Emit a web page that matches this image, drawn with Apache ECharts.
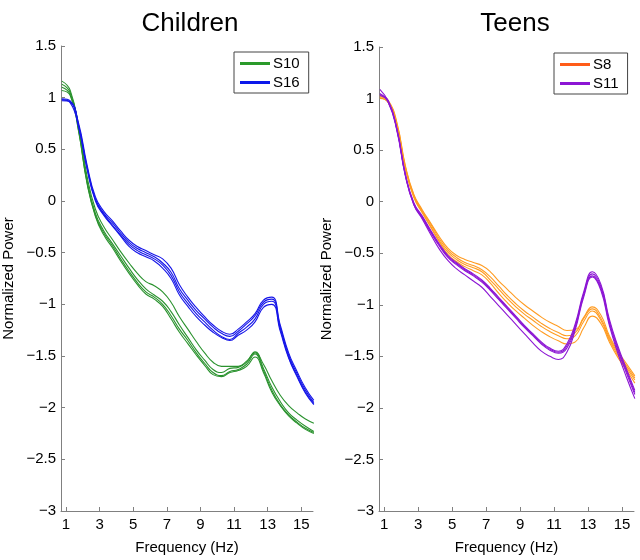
<!DOCTYPE html>
<html>
<head>
<meta charset="utf-8">
<script src="https://cdn.jsdelivr.net/npm/echarts@6/dist/echarts.min.js"></script>
<style>
  html, body { margin: 0; padding: 0; background: #fff; }
  #main { width: 640px; height: 560px; }
</style>
</head>
<body>
<div id="main"></div>
<script>
// frequency grid (Hz), shared by every curve
const freqs = [0.75, 1.25, 1.75, 2.25, 2.75, 3.25, 3.75, 4.25, 4.75, 5.25, 5.75,
  6.25, 6.75, 7.25, 7.75, 8.25, 8.75, 9.25, 9.75, 10.25, 10.75, 11.25, 11.75,
  12.25, 12.75, 13.25, 13.75, 14.25, 14.75, 15.25, 15.75];

const xTicks = [1, 3, 5, 7, 9, 11, 13, 15];

// Children: S10 (green)
const s10a = [1.10, 1.03, 0.73, 0.24, -0.08, -0.25, -0.37, -0.49, -0.60, -0.70, -0.78, -0.82, -0.88, -0.98, -1.12, -1.24, -1.36, -1.47, -1.56, -1.60, -1.60, -1.60, -1.55, -1.47, -1.58, -1.74, -1.88, -1.98, -2.05, -2.11, -2.15];
const s10b = [1.16, 1.07, 0.70, 0.20, -0.12, -0.29, -0.41, -0.53, -0.65, -0.76, -0.85, -0.91, -0.97, -1.07, -1.20, -1.32, -1.44, -1.54, -1.63, -1.66, -1.62, -1.61, -1.56, -1.46, -1.62, -1.80, -1.94, -2.05, -2.12, -2.18, -2.23];
const s10c = [1.13, 1.05, 0.68, 0.18, -0.14, -0.31, -0.43, -0.56, -0.68, -0.79, -0.88, -0.93, -1.00, -1.11, -1.24, -1.35, -1.47, -1.57, -1.66, -1.69, -1.65, -1.63, -1.58, -1.48, -1.64, -1.83, -1.97, -2.07, -2.14, -2.20, -2.24];
const s10d = [1.07, 1.02, 0.67, 0.17, -0.15, -0.33, -0.45, -0.58, -0.70, -0.81, -0.90, -0.95, -1.02, -1.14, -1.27, -1.38, -1.49, -1.59, -1.68, -1.70, -1.66, -1.64, -1.60, -1.51, -1.66, -1.85, -1.98, -2.08, -2.15, -2.21, -2.25];

// Children: S16 (blue)
const s16a = [0.98, 0.96, 0.75, 0.35, 0.04, -0.10, -0.19, -0.29, -0.38, -0.44, -0.48, -0.52, -0.56, -0.65, -0.81, -0.93, -1.03, -1.12, -1.20, -1.26, -1.29, -1.24, -1.17, -1.09, -0.96, -0.93, -1.20, -1.47, -1.65, -1.81, -1.93];
const s16b = [0.99, 0.97, 0.73, 0.33, 0.02, -0.12, -0.21, -0.31, -0.40, -0.46, -0.50, -0.54, -0.60, -0.69, -0.85, -0.96, -1.06, -1.14, -1.22, -1.28, -1.31, -1.26, -1.19, -1.11, -0.98, -0.95, -1.22, -1.49, -1.67, -1.83, -1.95];
const s16c = [0.97, 0.96, 0.72, 0.32, 0.01, -0.13, -0.23, -0.33, -0.42, -0.48, -0.52, -0.56, -0.62, -0.72, -0.88, -0.99, -1.09, -1.17, -1.25, -1.31, -1.34, -1.28, -1.22, -1.14, -1.00, -0.97, -1.24, -1.51, -1.69, -1.85, -1.96];
const s16d = [0.98, 0.95, 0.71, 0.31, 0.00, -0.14, -0.24, -0.34, -0.44, -0.50, -0.54, -0.58, -0.65, -0.75, -0.91, -1.02, -1.12, -1.20, -1.27, -1.32, -1.35, -1.30, -1.25, -1.17, -1.03, -1.00, -1.26, -1.52, -1.70, -1.86, -1.97];

// Teens: S8 (orange)
const s8a = [1.03, 0.98, 0.77, 0.35, 0.07, -0.08, -0.21, -0.34, -0.45, -0.52, -0.56, -0.59, -0.62, -0.68, -0.77, -0.85, -0.93, -1.00, -1.06, -1.12, -1.17, -1.21, -1.25, -1.24, -1.12, -1.02, -1.10, -1.30, -1.45, -1.57, -1.69];
const s8b = [1.02, 0.97, 0.76, 0.34, 0.06, -0.09, -0.22, -0.36, -0.47, -0.54, -0.59, -0.62, -0.66, -0.73, -0.82, -0.91, -0.99, -1.06, -1.12, -1.18, -1.23, -1.27, -1.30, -1.27, -1.13, -1.04, -1.13, -1.32, -1.47, -1.59, -1.71];
const s8c = [1.01, 0.96, 0.74, 0.33, 0.05, -0.10, -0.24, -0.38, -0.49, -0.56, -0.61, -0.64, -0.68, -0.76, -0.85, -0.94, -1.02, -1.09, -1.15, -1.21, -1.26, -1.30, -1.33, -1.30, -1.16, -1.06, -1.15, -1.34, -1.49, -1.61, -1.73];
const s8d = [1.00, 0.96, 0.73, 0.32, 0.04, -0.11, -0.25, -0.39, -0.51, -0.58, -0.63, -0.67, -0.71, -0.79, -0.89, -0.98, -1.06, -1.13, -1.20, -1.26, -1.31, -1.35, -1.38, -1.36, -1.22, -1.11, -1.18, -1.36, -1.51, -1.63, -1.76];

// Teens: S11 (purple)
const s11a = [1.09, 0.97, 0.71, 0.27, -0.01, -0.14, -0.28, -0.41, -0.52, -0.59, -0.65, -0.70, -0.76, -0.84, -0.93, -1.02, -1.11, -1.20, -1.28, -1.36, -1.42, -1.45, -1.38, -1.18, -0.87, -0.68, -0.80, -1.14, -1.40, -1.62, -1.83];
const s11b = [1.04, 0.98, 0.70, 0.26, -0.02, -0.15, -0.29, -0.42, -0.53, -0.60, -0.66, -0.71, -0.77, -0.85, -0.94, -1.03, -1.12, -1.21, -1.29, -1.37, -1.43, -1.46, -1.40, -1.20, -0.89, -0.70, -0.82, -1.16, -1.42, -1.64, -1.85];
const s11c = [1.05, 0.96, 0.69, 0.25, -0.03, -0.16, -0.30, -0.43, -0.54, -0.61, -0.67, -0.72, -0.78, -0.86, -0.95, -1.04, -1.13, -1.22, -1.30, -1.38, -1.44, -1.47, -1.42, -1.22, -0.90, -0.72, -0.84, -1.18, -1.44, -1.66, -1.87];
const s11d = [1.03, 0.97, 0.70, 0.26, -0.03, -0.17, -0.32, -0.46, -0.57, -0.65, -0.71, -0.77, -0.83, -0.92, -1.01, -1.10, -1.19, -1.28, -1.37, -1.45, -1.50, -1.53, -1.46, -1.24, -0.92, -0.73, -0.86, -1.20, -1.47, -1.70, -1.91];

const FONT = "'Liberation Sans', Arial, Helvetica, sans-serif";
const AXIS_GREY = '#808080';

const colors = {
  S10: { line: '#2a922e', legend: '#2a9a2a' },
  S16: { line: '#1616e8', legend: '#0c18ea' },
  S8:  { line: '#ff9c22', legend: '#ff5c18' },
  S11: { line: '#8c16d4', legend: '#8c16d4' }
};

const panels = [
  { title: 'Children', subjects: [['S10', [s10a, s10b, s10c, s10d]], ['S16', [s16a, s16b, s16c, s16d]]] },
  { title: 'Teens', subjects: [['S8', [s8a, s8b, s8c, s8d]], ['S11', [s11a, s11b, s11c, s11d]]] }
];

function xAxisFor(i) {
  return {
    type: 'value', gridIndex: i, min: 0.7, max: 15.7,
    name: 'Frequency (Hz)', nameLocation: 'middle', nameGap: 29,
    nameTextStyle: { color: '#000', fontSize: 15, fontFamily: FONT },
    axisLine: { onZero: false, lineStyle: { color: AXIS_GREY, width: 1 } },
    axisTick: { inside: true, length: 4, customValues: xTicks, lineStyle: { color: AXIS_GREY } },
    axisLabel: { customValues: xTicks, color: '#000', fontSize: 15, fontFamily: FONT, margin: 6 },
    splitLine: { show: false }
  };
}

function yAxisFor(i) {
  return {
    type: 'value', gridIndex: i, min: -3, max: 1.5, interval: 0.5,
    name: 'Normalized Power', nameLocation: 'middle', nameGap: 45, nameRotate: 90,
    nameTextStyle: { color: '#000', fontSize: 15, fontFamily: FONT },
    axisLine: { show: true, lineStyle: { color: AXIS_GREY, width: 1 } },
    axisTick: { show: true, inside: true, length: 4, lineStyle: { color: AXIS_GREY } },
    axisLabel: {
      color: '#000', fontSize: 15, fontFamily: FONT, margin: 5,
      formatter: v => String(v).replace('-', '\u2212')
    },
    splitLine: { show: false }
  };
}

const series = [];
panels.forEach((p, i) => {
  p.subjects.forEach(([name, curves]) => {
    curves.forEach(vals => {
      series.push({
        type: 'line', name: name, xAxisIndex: i, yAxisIndex: i,
        data: freqs.map((f, k) => [f, vals[k]]),
        smooth: 0.5, showSymbol: false, symbol: 'none',
        color: colors[name].line,
        lineStyle: { color: colors[name].line, width: 1.1 },
        emphasis: { disabled: true }
      });
    });
  });
});

function legendFor(i, left, top) {
  return {
    orient: 'vertical', left: left, top: top,
    data: panels[i].subjects.map(([name]) => ({
      name: name, icon: 'rect', itemStyle: { color: colors[name].legend }
    })),
    itemWidth: 30, itemHeight: 3, itemGap: 2,
    padding: [3, 9, 2, 6],
    borderColor: '#444', borderWidth: 1, borderRadius: 0,
    backgroundColor: '#fff',
    textStyle: { color: '#000', fontSize: 15, fontFamily: FONT, lineHeight: 17, padding: [0, 0, 0, -2] },
    selectedMode: false
  };
}

const chart = echarts.init(document.getElementById('main'), null, { renderer: 'canvas' });
chart.setOption({
  animation: false,
  backgroundColor: '#fff',
  grid: [
    { left: 58, right: 327, top: 46, bottom: 41 },
    { left: 379, right: 6, top: 47, bottom: 40 }
  ],
  xAxis: [xAxisFor(0), xAxisFor(1)],
  yAxis: [yAxisFor(0), yAxisFor(1)],
  legend: [legendFor(0, 234, 52), legendFor(1, 554, 53)],
  graphic: [
    { type: 'text', x: 190, y: 24, style: { text: panels[0].title, font: '26px ' + FONT, fill: '#000', textAlign: 'center', textVerticalAlign: 'middle' } },
    { type: 'text', x: 515, y: 24, style: { text: panels[1].title, font: '26px ' + FONT, fill: '#000', textAlign: 'center', textVerticalAlign: 'middle' } }
  ],
  series: series
});
</script>
</body>
</html>
